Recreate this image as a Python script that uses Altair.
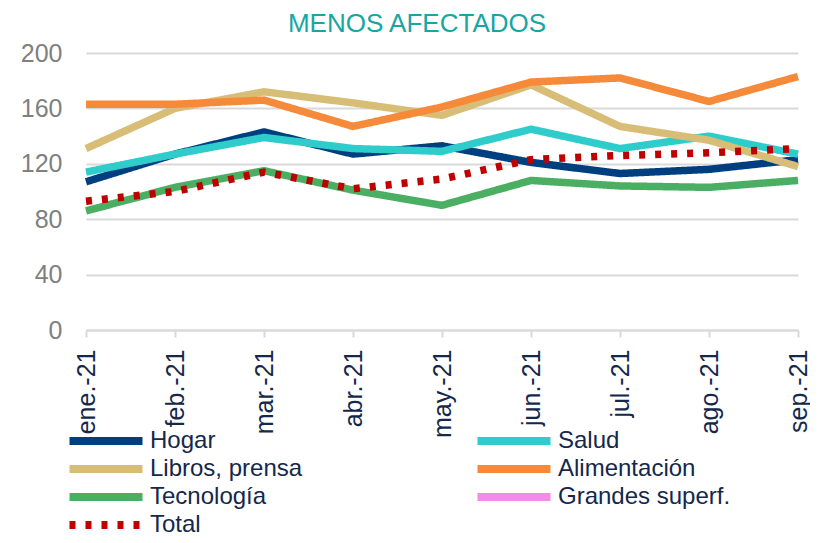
import altair as alt
import pandas as pd

months = ["ene.-21", "feb.-21", "mar.-21", "abr.-21", "may.-21", "jun.-21", "jul.-21", "ago.-21", "sep.-21"]
series_names = ["Hogar", "Salud", "Libros, prensa", "Alimentación", "Tecnología", "Grandes superf.", "Total"]
series_colors = ["#003F7F", "#2ECDCB", "#D8BD76", "#F58A3A", "#4BAF63", "#F38CE6", "#C00000"]

hogar = [107, 127, 143, 127, 133, 121, 113, 116, 123]
salud = [114, 127, 139, 131, 129, 145, 131, 140, 127]
libros = [131, 160, 172, 164, 155, 177, 147, 137, 118]
alimentacion = [163, 163, 166, 147, 161, 179, 182, 165, 183]
tecnologia = [86, 103, 115, 101, 90, 108, 104, 103, 108]
total = [93, 100, 114, 102, 109, 123, 126, 128, 131]

values = {
    "Hogar": hogar,
    "Salud": salud,
    "Libros, prensa": libros,
    "Alimentación": alimentacion,
    "Tecnología": tecnologia,
    "Total": total,
}

rows = []
for name, vals in values.items():
    for m, v in zip(months, vals):
        rows.append({"mes": m, "serie": name, "valor": v})
df = pd.DataFrame(rows)

dashes = [[1, 0]] * 6 + [[6, 10]]

legend = alt.Legend(
    title=None,
    orient="none",
    legendX=8,
    legendY=376,
    columns=2,
    direction="horizontal",
    columnPadding=158,
    rowPadding=-6,
    symbolType="M-7.3,0H7.3",
    symbolSize=100,
    symbolStrokeWidth=8,
    labelFont="Liberation Sans",
    labelFontSize=24,
    labelColor="#14284B",
    labelOffset=32,
    labelLimit=300,
)

chart = (
    alt.Chart(df)
    .mark_line(strokeWidth=7.5, strokeJoin="round", strokeCap="butt")
    .encode(
        x=alt.X(
            "mes:N",
            sort=months,
            scale=alt.Scale(type="point", domain=months, padding=0),
            axis=alt.Axis(
                title=None,
                labelAngle=270,
                labelFont="Liberation Sans",
                labelFontSize=25,
                labelColor="#14284B",
                labelPadding=12,
                tickSize=7,
                tickColor="#D9D9D9",
                tickWidth=2,
                domainColor="#D9D9D9",
                domainWidth=2,
                grid=False,
            ),
        ),
        y=alt.Y(
            "valor:Q",
            scale=alt.Scale(domain=[0, 200], nice=False),
            axis=alt.Axis(
                title=None,
                values=[0, 40, 80, 120, 160, 200],
                labelFont="Liberation Sans",
                labelFontSize=25,
                labelColor="#808080",
                labelPadding=24,
                ticks=False,
                domain=False,
                gridColor="#D9D9D9",
                gridWidth=2,
            ),
        ),
        color=alt.Color(
            "serie:N",
            scale=alt.Scale(domain=series_names, range=series_colors),
            legend=legend,
        ),
        strokeDash=alt.StrokeDash(
            "serie:N",
            scale=alt.Scale(domain=series_names, range=dashes),
            legend=legend,
        ),
    )
    .properties(
        width=712,
        height=277,
        padding={"left": 78, "top": 45, "right": 12, "bottom": 205},
        autosize=alt.AutoSizeParams(type="none"),
        title=alt.TitleParams(
            "MENOS AFECTADOS",
            font="Liberation Sans",
            fontSize=26,
            fontWeight="normal",
            color="#17A6A3",
            anchor="middle",
            dx=-25,
            offset=4,
        ),
    )
    .configure_view(stroke=None)
)

chart.save("out.html", embed_options={"renderer": "svg", "actions": False})
